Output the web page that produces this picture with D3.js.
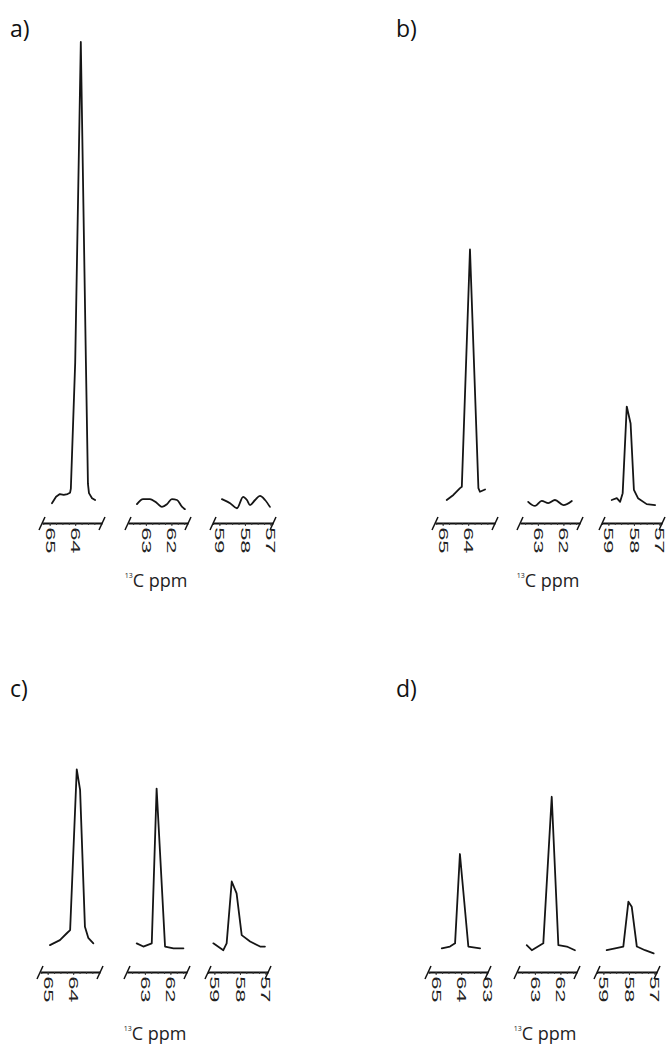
<!DOCTYPE html>
<html>
<head>
<meta charset="utf-8">
<script src="https://cdn.jsdelivr.net/npm/d3@7"></script>
<style>
  body { margin: 0; background: #fff; }
  svg { display: block; font-family: "Open Sans", "Noto Sans", sans-serif; }
</style>
</head>
<body>
<svg id="chart"></svg>
<script>
'use strict';

// ppm window of each broken axis segment (left -> right, ppm decreasing)
var segDomains = [[65.3, 62.95], [63.7, 61.35], [59.25, 56.9]];

// labelled ticks per panel and segment
var ticksA = [[65, 64], [63, 62], [59, 58, 57]];
var ticksB = [[65, 64], [63, 62], [59, 58, 57]];
var ticksC = [[65, 64], [63, 62], [59, 58, 57]];
var ticksD = [[65, 64, 63], [63, 62], [59, 58, 57]];

var panelNames = ["a)", "b)", "c)", "d)"];
var unitLabel = "C ppm";
var unitSup = "13";

// spectra, [ppm, relative intensity] (a main peak = 100)
var specA1 = [[64.91, -0.7], [64.75, 0.7], [64.6, 1.3], [64.45, 1.1], [64.3, 1.3], [64.2, 1.6], [64.17, 2.5], [64.0, 30], [63.78, 100], [63.58, 30], [63.5, 3.5], [63.46, 1.5], [63.34, 0.4], [63.22, 0]];
var specA2 = [[63.35, -0.9], [63.11, 0.2], [62.84, 0.2], [62.56, -0.7], [62.37, -1.5], [62.17, -0.9], [61.98, 0.2], [61.78, 0], [61.58, -1.5], [61.47, -2.0]];
var specA3 = [[58.9, 0.2], [58.58, -0.7], [58.31, -1.8], [58.07, 0.7], [57.92, 0], [57.8, -1.1], [57.6, 0], [57.41, 0.9], [57.21, 0], [57.02, -1.5]];

var specB1 = [[64.84, 0], [64.58, 1.1], [64.32, 2.6], [64.25, 2.9], [63.93, 54.7], [63.6, 2.6], [63.54, 1.8], [63.34, 2.3]];
var specB2 = [[63.38, -0.4], [63.11, -1.3], [62.85, -0.2], [62.59, -0.7], [62.33, 0], [62.0, -1.1], [61.67, -0.2]];
var specB3 = [[58.87, 0], [58.67, 0.4], [58.54, -0.4], [58.44, 1.5], [58.28, 20.4], [58.13, 16.7], [58.0, 2.2], [57.84, 0.4], [57.5, -0.9], [57.17, -1.1]];

var specC1 = [[64.91, 0.4], [64.52, 1.5], [64.25, 3.0], [64.12, 3.7], [63.86, 38.8], [63.73, 34.3], [63.54, 4.4], [63.41, 2.0], [63.21, 0.8]];
var specC2 = [[63.32, 0.8], [63.06, 0.1], [62.73, 0.8], [62.54, 34.6], [62.21, 0.1], [61.88, -0.3], [61.49, -0.3]];
var specC3 = [[59.04, 0.8], [58.65, -0.7], [58.52, 0.8], [58.32, 14.3], [58.13, 11.7], [57.93, 2.6], [57.6, 1.2], [57.21, 0.1], [57.02, 0.1]];

var specD1 = [[64.76, -0.3], [64.44, 0.1], [64.24, 0.8], [64.05, 20.3], [63.72, 0.1], [63.26, -0.3]];
var specD2 = [[63.32, 0.4], [63.12, -0.7], [62.67, 0.8], [62.34, 32.8], [62.08, 0.4], [61.75, 0.1], [61.43, -0.7]];
var specD3 = [[58.87, -0.7], [58.54, -0.3], [58.22, 0.1], [58.02, 9.9], [57.89, 8.8], [57.69, 0.1], [57.37, -0.7], [57.03, -1.4]];

var spectra = [
    [specA1, specA2, specA3],
    [specB1, specB2, specB3],
    [specC1, specC2, specC3],
    [specD1, specD2, specD3]
];
var tickSets = [ticksA, ticksB, ticksC, ticksD];

// layout
var svgWidth = 667,
    svgHeight = 1046;
var segWidth = 60;
var peakSpan = 458;   // pixels for intensity 100

var layout = [
    { lx: 10, ly: 37, segLeft: [42, 128, 213], axisY: 523, base: 500, unitY: 587 },
    { lx: 396, ly: 37, segLeft: [435, 520, 602], axisY: 523, base: 500, unitY: 587 },
    { lx: 10, ly: 697, segLeft: [40, 127, 208], axisY: 972, base: 947, unitY: 1040 },
    { lx: 396, ly: 697, segLeft: [428, 517, 597], axisY: 972, base: 947, unitY: 1040 }
];

var svg = d3.select("#chart")
    .attr("width", svgWidth)
    .attr("height", svgHeight);

layout.forEach(function (p, pi) {

    var g = svg.append("g").attr("class", "panel");

    g.append("text")
        .attr("x", p.lx)
        .attr("y", p.ly)
        .attr("font-size", 23)
        .attr("fill", "#111")
        .text(panelNames[pi]);

    var y = d3.scaleLinear()
        .domain([0, 100])
        .range([p.base, p.base - peakSpan]);

    segDomains.forEach(function (dom, si) {

        var x = d3.scaleLinear()
            .domain(dom)
            .range([p.segLeft[si], p.segLeft[si] + segWidth]);

        // minor ticks
        var minor = d3.range(Math.ceil(dom[1] * 4), Math.floor(dom[0] * 4) + 1)
            .map(function (d) { return d / 4; });

        g.append("g")
            .attr("class", "axis minor")
            .attr("transform", "translate(0," + p.axisY + ")")
            .call(d3.axisBottom(x).tickValues(minor).tickSize(2).tickSizeOuter(0).tickFormat(""))
            .call(function (s) {
                s.select(".domain").attr("stroke", "#111").attr("stroke-width", 1.8);
                s.selectAll(".tick line").attr("stroke", "#333");
            });

        g.append("g")
            .attr("class", "axis major")
            .attr("transform", "translate(0," + p.axisY + ")")
            .call(d3.axisBottom(x).tickValues(tickSets[pi][si]).tickSize(3).tickSizeOuter(0).tickFormat(d3.format("d")))
            .call(function (s) {
                s.select(".domain").remove();
                s.selectAll(".tick line").attr("stroke", "#333");
                s.selectAll(".tick text")
                    .attr("y", 0)
                    .attr("x", 2.2)
                    .attr("dy", "0.36em")
                    .attr("transform", "rotate(90) scale(1.9,1)")
                    .attr("font-size", 12.5)
                    .attr("fill", "#222")
                    .style("text-anchor", "start");
            });

        // break marks at both ends
        x.range().forEach(function (xe) {
            g.append("line")
                .attr("x1", xe - 3).attr("y1", p.axisY + 7)
                .attr("x2", xe + 3).attr("y2", p.axisY - 6)
                .attr("stroke", "#111")
                .attr("stroke-width", 1.5);
        });

        var data = spectra[pi][si];
        var hasPeak = d3.max(data, function (d) { return d[1] }) > 5;

        var line = d3.line()
            .x(function (d) { return x(d[0]) })
            .y(function (d) { return y(d[1]) })
            .curve(hasPeak ? d3.curveLinear : d3.curveMonotoneX);

        g.append("path")
            .datum(data)
            .attr("fill", "none")
            .attr("stroke", "#151515")
            .attr("stroke-width", 1.8)
            .attr("stroke-linejoin", "round")
            .attr("stroke-linecap", "round")
            .attr("d", line);
    });

    var t = g.append("text")
        .attr("x", p.segLeft[1] + segWidth / 2 - 2)
        .attr("y", p.unitY)
        .attr("text-anchor", "middle")
        .attr("font-size", 18)
        .attr("fill", "#222");
    t.append("tspan")
        .attr("font-size", 7)
        .attr("dy", -9)
        .text(unitSup);
    t.append("tspan")
        .attr("dy", 9)
        .text(unitLabel);
});
</script>
</body>
</html>
